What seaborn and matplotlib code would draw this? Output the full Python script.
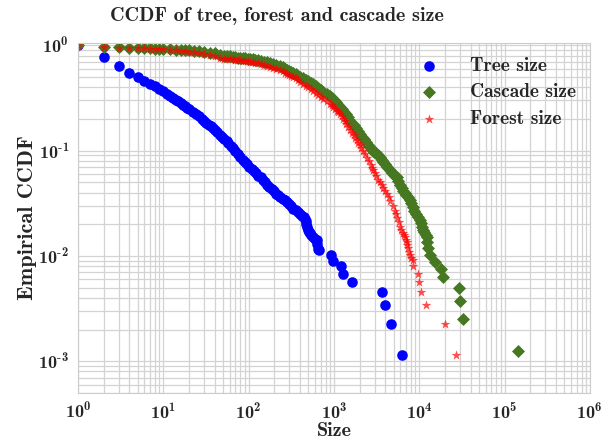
import numpy as np
import pandas as pd
import matplotlib
matplotlib.use('Agg')
import matplotlib.pyplot as plt
import matplotlib.ticker as mticker
import seaborn as sns

tree_size = [1, 2, 3, 4, 5, 6, 7, 8, 9, 10, 11, 12, 13, 14, 15, 16, 17, 18, 19, 20,
             22, 24, 26, 28, 30, 32, 34, 36, 38, 40, 43, 46, 49, 52, 55, 58, 62, 66, 70, 75,
             80, 85, 90, 96, 102, 108, 115, 122, 130, 138, 146, 155, 165, 175, 186, 198, 210, 222, 235, 250,
             265, 280, 297, 315, 335, 355, 375, 400, 420, 440, 457, 465, 472, 479, 495, 510, 524, 545, 570, 600,
             627, 640, 655, 665, 923, 982, 1197, 1286, 1640, 3624, 3930, 4655, 6320]
tree_ccdf = [1.0, 0.774, 0.63, 0.546, 0.497, 0.462, 0.433, 0.408, 0.386, 0.367, 0.348, 0.333, 0.318, 0.305, 0.293, 0.283, 0.273, 0.264, 0.256, 0.248,
             0.235, 0.222, 0.211, 0.201, 0.192, 0.184, 0.177, 0.170, 0.164, 0.158, 0.150, 0.142, 0.135, 0.129, 0.123, 0.117, 0.111, 0.105, 0.100, 0.093,
             0.087, 0.082, 0.078, 0.074, 0.070, 0.067, 0.064, 0.061, 0.058, 0.056, 0.053, 0.050, 0.047, 0.045, 0.043, 0.041, 0.039, 0.038, 0.036, 0.035,
             0.0338, 0.0325, 0.031, 0.0295, 0.0282, 0.0272, 0.0262, 0.0252, 0.0242, 0.0233, 0.0225, 0.0215, 0.0200, 0.0188, 0.0178, 0.0170, 0.0164, 0.0157, 0.0151, 0.0146,
             0.0141, 0.0130, 0.0117, 0.0113, 0.0101, 0.00895, 0.00797, 0.00679, 0.00565, 0.00454, 0.0034, 0.00227, 0.00114]

cascade_size = [1, 2, 3, 4, 5, 6, 7, 8, 9, 10, 12, 14, 16, 18, 20, 23, 26, 30, 35, 40,
                46, 52, 56, 60, 65, 70, 75, 80, 85, 90, 97, 104, 112, 120, 130, 140, 152, 165, 180, 195,
                212, 230, 250, 270, 285, 300, 316, 333, 355, 380, 405, 430, 465, 500, 535, 572, 610, 650, 700, 750,
                820, 898, 950, 1000, 1045, 1090, 1130, 1176, 1240, 1300, 1370, 1450, 1520, 1600, 1700, 1800, 1900, 2018, 2130, 2250,
                2370, 2500, 2650, 2800, 2950, 3100, 3280, 3460, 3630, 3800, 4000, 4200, 4500, 4800, 5100, 5430, 5700, 6000, 6250, 6500,
                6750, 7000, 7400, 7780, 8100, 8400, 8800, 9200, 9700, 10180, 10500, 10800, 11150, 11500, 11850, 12190, 12500, 12740, 13330, 15280,
                17950, 19100, 28900, 30000, 32500, 142200]
cascade_ccdf = [1.0, 0.965, 0.956, 0.95, 0.945, 0.94, 0.936, 0.932, 0.928, 0.925, 0.918, 0.912, 0.906, 0.9, 0.894, 0.885, 0.876, 0.866, 0.853, 0.838,
                0.818, 0.8, 0.792, 0.785, 0.777, 0.77, 0.765, 0.76, 0.756, 0.753, 0.749, 0.745, 0.738, 0.73, 0.72, 0.71, 0.7, 0.69, 0.68, 0.67,
                0.653, 0.635, 0.618, 0.6, 0.588, 0.575, 0.562, 0.55, 0.532, 0.515, 0.5, 0.485, 0.47, 0.455, 0.44, 0.425, 0.408, 0.39, 0.375, 0.36,
                0.345, 0.33, 0.315, 0.3, 0.29, 0.28, 0.27, 0.26, 0.247, 0.235, 0.222, 0.21, 0.197, 0.185, 0.174, 0.163, 0.154, 0.145, 0.136, 0.128,
                0.121, 0.114, 0.108, 0.102, 0.098, 0.094, 0.09, 0.087, 0.082, 0.078, 0.074, 0.07, 0.066, 0.062, 0.059, 0.056, 0.051, 0.047, 0.044, 0.041,
                0.0395, 0.038, 0.036, 0.034, 0.0315, 0.029, 0.027, 0.025, 0.0235, 0.022, 0.0205, 0.019, 0.0178, 0.0168, 0.0159, 0.0151, 0.0136, 0.0118, 0.0101, 0.00875,
                0.0075, 0.00625, 0.005, 0.00375, 0.0025, 0.00125]

forest_size = [1, 2, 3, 4, 5, 6, 7, 8, 9, 10, 12, 14, 16, 18, 20, 23, 26, 30, 35, 40,
               46, 52, 56, 60, 65, 70, 75, 80, 85, 90, 97, 104, 112, 120, 130, 140, 152, 165, 180, 195,
               212, 230, 250, 270, 285, 300, 316, 333, 355, 380, 405, 430, 465, 500, 535, 572, 610, 650, 700, 750,
               820, 898, 940, 982, 1030, 1080, 1130, 1176, 1230, 1280, 1330, 1400, 1472, 1540, 1620, 1700, 1770, 1846, 1920, 2000,
               2100, 2207, 2320, 2450, 2570, 2700, 2800, 2893, 3020, 3150, 3300, 3450, 3620, 3800, 3980, 4150, 4370, 4600, 4880, 5190,
               5350, 5500, 5720, 5940, 6150, 6400, 6600, 6800, 6950, 7120, 7280, 7430, 7600, 7780, 8100, 8510, 8510, 9660, 10000, 10470,
               11980, 20170, 26900]
forest_ccdf = [1.0, 0.963, 0.952, 0.945, 0.94, 0.935, 0.93, 0.925, 0.92, 0.915, 0.906, 0.898, 0.89, 0.882, 0.874, 0.862, 0.85, 0.835, 0.815, 0.795,
               0.765, 0.75, 0.745, 0.74, 0.735, 0.73, 0.725, 0.72, 0.715, 0.71, 0.705, 0.70, 0.692, 0.685, 0.675, 0.665, 0.652, 0.64, 0.628, 0.615,
               0.6, 0.585, 0.568, 0.55, 0.535, 0.52, 0.51, 0.5, 0.485, 0.465, 0.448, 0.43, 0.415, 0.40, 0.385, 0.37, 0.355, 0.34, 0.325, 0.31,
               0.295, 0.28, 0.27, 0.26, 0.25, 0.24, 0.232, 0.225, 0.212, 0.2, 0.19, 0.178, 0.168, 0.156, 0.147, 0.14, 0.132, 0.125, 0.118, 0.112,
               0.106, 0.1, 0.092, 0.085, 0.079, 0.073, 0.069, 0.065, 0.061, 0.057, 0.053, 0.05, 0.047, 0.044, 0.041, 0.039, 0.036, 0.033, 0.030, 0.027,
               0.025, 0.023, 0.021, 0.0188, 0.0176, 0.0165, 0.0157, 0.015, 0.0143, 0.0136, 0.0127, 0.0118, 0.011, 0.0101, 0.0096, 0.0091, 0.008, 0.0068, 0.0057, 0.0045,
               0.0034, 0.00227, 0.00114]

sns.set_style('whitegrid')
plt.rcParams['font.family'] = ['cmb10', 'DejaVu Serif']
plt.rcParams['mathtext.fontset'] = 'cm'
plt.rcParams['mathtext.default'] = 'bf'


def pot10(v, pos):
    # etiqueta 10^n en negrita, con guion de texto para el signo
    e = int(round(np.log10(v)))
    if e < 0:
        return r'$\mathdefault{10^{\text{-}%d}}$' % (-e)
    return r'$\mathdefault{10^{%d}}$' % e


fig, ax = plt.subplots(figsize=(6.15, 4.4), dpi=100)
fig.subplots_adjust(left=0.127, right=0.959, top=0.902, bottom=0.107)

sns.scatterplot(x=tree_size, y=tree_ccdf, ax=ax, color='#0000ff', marker='o', s=58,
                linewidth=0, label='Tree size')
sns.scatterplot(x=cascade_size, y=cascade_ccdf, ax=ax, color='#467821', marker='D', s=44,
                linewidth=0, label='Cascade size')
sns.scatterplot(x=forest_size, y=forest_ccdf, ax=ax, color='red', marker='*', s=55,
                linewidth=0, alpha=0.7, label='Forest size')

ax.set_xscale('log')
ax.set_yscale('log')
ax.set_xlim(1, 1e6)
ax.set_ylim(5e-4, 1.05)
ax.xaxis.set_major_formatter(mticker.FuncFormatter(pot10))
ax.yaxis.set_major_formatter(mticker.FuncFormatter(pot10))
ax.grid(True, which='both', color='#d3d3d3', linewidth=0.9)
ax.set_axisbelow(True)

ax.set_title('CCDF of tree, forest and cascade size', fontsize=14.5, x=0.389, pad=16)
ax.set_xlabel('Size', fontsize=14.5, labelpad=0)
ax.set_ylabel('Empirical CCDF', fontsize=16, labelpad=1)
ax.tick_params(labelsize=13, pad=3)

ax.legend(loc='upper right', frameon=False, fontsize=14, handletextpad=1.1,
          labelspacing=0.45, borderaxespad=0.3)

plt.savefig('out.png', dpi=100)
